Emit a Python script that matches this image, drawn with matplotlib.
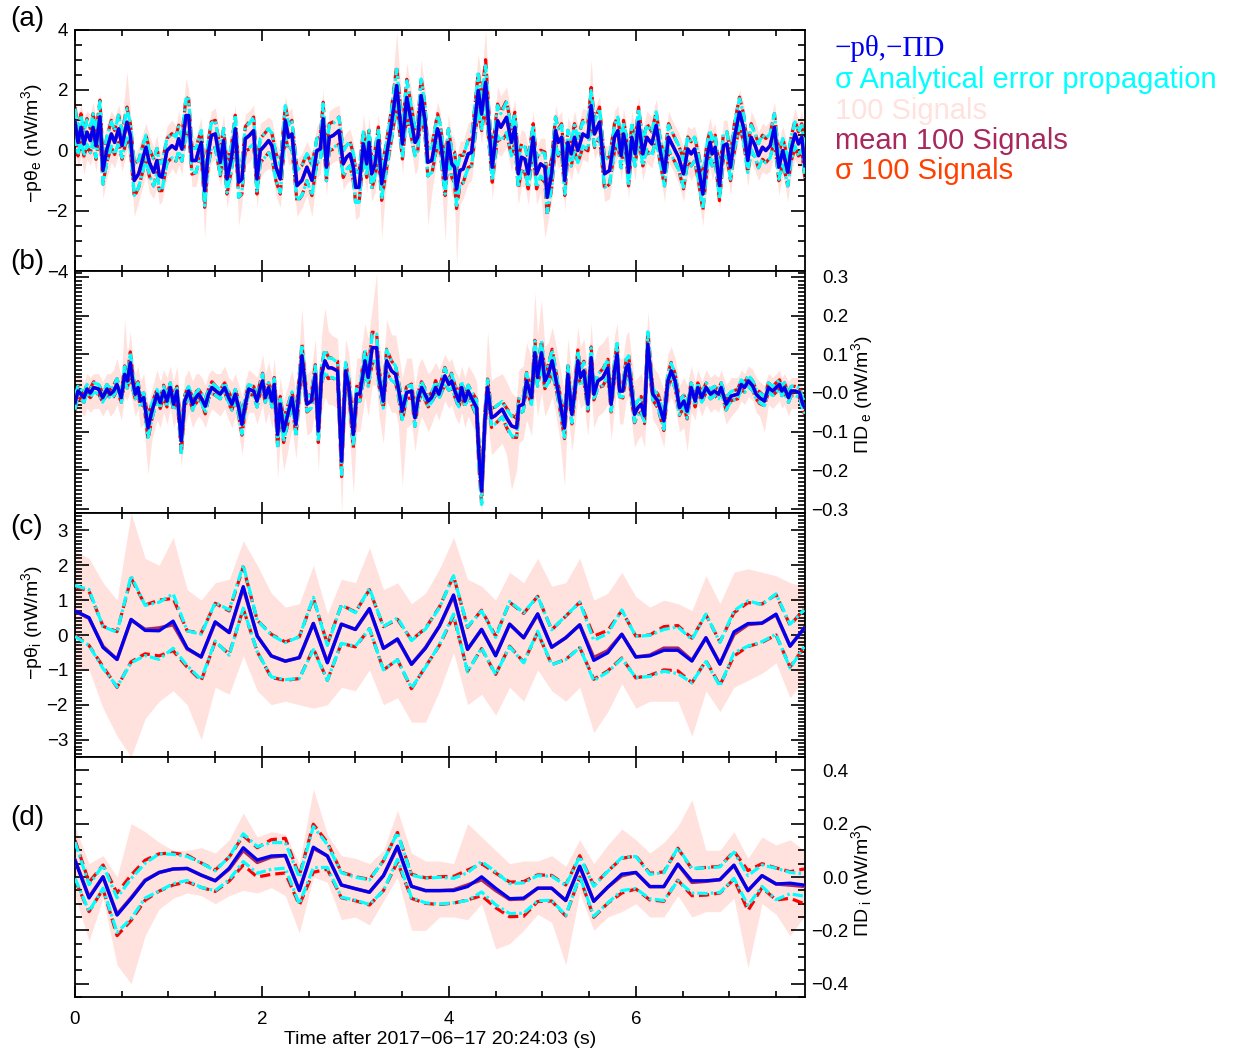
import numpy as np
import matplotlib
matplotlib.use("Agg")
import matplotlib.pyplot as plt
from matplotlib.ticker import MultipleLocator

plt.rcParams['font.family'] = ['Liberation Sans', 'DejaVu Sans']
plt.rcParams['mathtext.fontset'] = 'custom'
plt.rcParams['mathtext.rm'] = 'Liberation Sans'
plt.rcParams['mathtext.it'] = 'Liberation Sans:italic'

# ---------------- panel (a): -p theta_e (electrons, nW/m^3) ----------------
t_a = [0.000, 0.032, 0.064, 0.096, 0.128, 0.164, 0.193, 0.225, 0.267, 0.299,
       0.342, 0.389, 0.424, 0.467, 0.503, 0.556, 0.592, 0.634, 0.681, 0.759,
       0.795, 0.841, 0.877, 0.902, 0.930, 0.984, 1.037, 1.080, 1.109, 1.144,
       1.187, 1.216, 1.251, 1.294, 1.323, 1.351, 1.387, 1.422, 1.458, 1.501,
       1.554, 1.590, 1.626, 1.672, 1.715, 1.751, 1.786, 1.822, 1.865, 1.911,
       1.947, 1.982, 2.028, 2.071, 2.107, 2.150, 2.196, 2.250, 2.285, 2.321,
       2.375, 2.428, 2.481, 2.535, 2.588, 2.624, 2.655, 2.690, 2.720, 2.763,
       2.824, 2.870, 2.906, 2.942, 2.978, 3.003, 3.039, 3.085, 3.121, 3.146,
       3.174, 3.210, 3.246, 3.281, 3.324, 3.381, 3.442, 3.503, 3.549, 3.603,
       3.638, 3.667, 3.703, 3.745, 3.774, 3.817, 3.878, 3.906, 3.960, 3.995,
       4.031, 4.060, 4.082, 4.118, 4.153, 4.207, 4.243, 4.314, 4.350, 4.393,
       4.428, 4.464, 4.521, 4.556, 4.617, 4.670, 4.706, 4.742, 4.777, 4.813,
       4.849, 4.902, 4.938, 4.981, 5.027, 5.052, 5.099, 5.141, 5.170, 5.206,
       5.240, 5.273, 5.309, 5.344, 5.380, 5.433, 5.487, 5.522, 5.558, 5.612,
       5.665, 5.719, 5.772, 5.808, 5.843, 5.868, 5.897, 5.922, 5.957, 5.993,
       6.029, 6.075, 6.118, 6.171, 6.218, 6.260, 6.307, 6.350, 6.403, 6.457,
       6.510, 6.556, 6.592, 6.628, 6.670, 6.717, 6.760, 6.795, 6.817, 6.849,
       6.895, 6.938, 6.974, 7.013, 7.055, 7.109, 7.152, 7.198, 7.234, 7.277,
       7.312, 7.355, 7.391, 7.437, 7.483, 7.530, 7.573, 7.626, 7.662, 7.704,
       7.740, 7.775, 7.810]
pe_a = [0.93, 0.26, 0.76, 0.21, 0.60, 0.32, 0.76, 0.15, 1.11, -0.67,
        0.04, 0.54, 0.26, 0.71, 0.15, 0.93, 0.49, -1.00, -0.78, 0.10,
        -0.40, -0.73, -0.34, -0.84, -0.89, -0.01, 0.15, 0.04, 0.38, 0.04,
        1.15, 1.15, -0.34, -0.34, -0.01, 0.26, -1.34, -0.18, 0.49, 0.54,
        -0.40, 0.32, -0.95, -0.29, 0.71, -1.06, -0.95, 0.38, 0.49, 0.65,
        -0.95, -0.01, 0.15, 0.32, 0.15, -0.56, -0.95, 0.98, 0.43, 0.54,
        -1.17, -1.00, -0.56, -1.00, -0.01, 0.04, 1.04, -0.56, 0.43, 0.49,
        0.65, -0.45, -0.23, -0.12, -0.56, -1.23, -1.23, 0.21, -0.45, 0.26,
        -0.78, -0.45, 0.32, -1.11, -0.34, 0.76, 2.14, 0.21, 1.75, 0.87,
        0.26, 0.43, 1.81, 0.98, -0.40, -0.34, 0.71, 0.43, -0.95, 0.26,
        -0.45, -0.56, -1.28, -0.67, -0.62, -0.12, -0.07, 1.98, 1.20, 2.25,
        0.76, -0.56, 0.98, 0.76, 1.09, 0.26, 0.76, -0.78, -0.23, -0.29,
        -0.78, 0.43, -0.78, -0.45, -0.56, -1.56, -0.78, 0.65, 0.26, 0.43,
        -1.00, 0.26, -0.12, 0.43, -0.01, 0.54, 0.43, 1.48, 0.54, 0.93,
        -0.78, -0.67, 0.43, 0.65, -0.18, 0.54, 0.10, -0.73, 0.43, -0.12,
        0.93, -0.12, 0.43, 0.21, 0.82, -0.01, -0.73, 0.43, 0.10, -0.23,
        -0.78, 0.04, -0.12, 0.04, -0.56, -1.45, -0.23, 0.26, -0.12, 0.10,
        -1.17, 0.15, 0.21, -0.56, 0.43, 1.26, 0.76, -0.34, 0.43, 0.15,
        -0.18, 0.10, -0.01, 0.15, 0.76, -0.56, -0.01, -0.73, 0.04, 0.54,
        0.21, 0.43, -0.51]
sig_a_an = [0.45, 0.40, 0.40, 0.40, 0.40, 0.40, 0.45, 0.40, 0.50, 0.45,
            0.40, 0.40, 0.40, 0.45, 0.40, 0.45, 0.40, 0.50, 0.45, 0.40,
            0.40, 0.45, 0.40, 0.45, 0.45, 0.40, 0.40, 0.40, 0.40, 0.40,
            0.55, 0.55, 0.40, 0.40, 0.40, 0.40, 0.50, 0.40, 0.40, 0.45,
            0.40, 0.40, 0.45, 0.40, 0.45, 0.50, 0.45, 0.40, 0.40, 0.45,
            0.45, 0.40, 0.40, 0.40, 0.40, 0.45, 0.45, 0.50, 0.40, 0.45,
            0.50, 0.50, 0.45, 0.50, 0.40, 0.40, 0.50, 0.45, 0.40, 0.40,
            0.45, 0.40, 0.40, 0.40, 0.45, 0.50, 0.50, 0.40, 0.40, 0.40,
            0.45, 0.40, 0.40, 0.50, 0.40, 0.45, 0.55, 0.45, 0.55, 0.50,
            0.45, 0.45, 0.55, 0.50, 0.45, 0.40, 0.45, 0.45, 0.50, 0.45,
            0.45, 0.45, 0.55, 0.45, 0.45, 0.45, 0.45, 0.55, 0.50, 0.55,
            0.50, 0.45, 0.50, 0.45, 0.50, 0.45, 0.45, 0.45, 0.40, 0.40,
            0.45, 0.40, 0.45, 0.40, 0.45, 0.50, 0.45, 0.45, 0.40, 0.40,
            0.45, 0.40, 0.40, 0.40, 0.40, 0.40, 0.40, 0.50, 0.40, 0.45,
            0.45, 0.45, 0.40, 0.45, 0.40, 0.40, 0.40, 0.45, 0.40, 0.40,
            0.45, 0.40, 0.40, 0.40, 0.45, 0.40, 0.45, 0.40, 0.40, 0.40,
            0.45, 0.40, 0.40, 0.40, 0.40, 0.50, 0.40, 0.40, 0.40, 0.40,
            0.45, 0.40, 0.40, 0.40, 0.40, 0.45, 0.45, 0.40, 0.40, 0.40,
            0.40, 0.40, 0.40, 0.40, 0.45, 0.40, 0.40, 0.45, 0.40, 0.40,
            0.40, 0.40, 0.40]
sig_a_mc = [0.50, 0.45, 0.45, 0.40, 0.45, 0.40, 0.45, 0.45, 0.55, 0.45,
            0.40, 0.45, 0.40, 0.45, 0.45, 0.50, 0.40, 0.55, 0.45, 0.40,
            0.45, 0.45, 0.40, 0.50, 0.45, 0.40, 0.40, 0.40, 0.45, 0.40,
            0.60, 0.55, 0.45, 0.40, 0.40, 0.40, 0.55, 0.40, 0.45, 0.45,
            0.45, 0.40, 0.50, 0.40, 0.45, 0.50, 0.50, 0.40, 0.45, 0.45,
            0.50, 0.40, 0.40, 0.40, 0.40, 0.45, 0.50, 0.50, 0.45, 0.45,
            0.55, 0.50, 0.45, 0.50, 0.40, 0.40, 0.55, 0.45, 0.45, 0.45,
            0.45, 0.45, 0.40, 0.40, 0.45, 0.55, 0.50, 0.45, 0.45, 0.40,
            0.50, 0.45, 0.45, 0.55, 0.45, 0.50, 0.65, 0.50, 0.60, 0.50,
            0.45, 0.45, 0.60, 0.50, 0.45, 0.45, 0.50, 0.45, 0.55, 0.45,
            0.45, 0.50, 0.65, 0.50, 0.45, 0.45, 0.45, 0.60, 0.55, 0.75,
            0.50, 0.50, 0.55, 0.50, 0.55, 0.45, 0.50, 0.50, 0.45, 0.45,
            0.50, 0.45, 0.50, 0.45, 0.50, 0.60, 0.50, 0.45, 0.45, 0.45,
            0.50, 0.40, 0.40, 0.45, 0.40, 0.45, 0.45, 0.60, 0.45, 0.50,
            0.50, 0.45, 0.45, 0.45, 0.40, 0.45, 0.40, 0.45, 0.45, 0.40,
            0.50, 0.40, 0.45, 0.40, 0.45, 0.40, 0.45, 0.45, 0.40, 0.40,
            0.50, 0.40, 0.40, 0.40, 0.45, 0.55, 0.45, 0.40, 0.40, 0.40,
            0.50, 0.40, 0.40, 0.45, 0.45, 0.50, 0.45, 0.40, 0.45, 0.40,
            0.40, 0.40, 0.40, 0.40, 0.45, 0.45, 0.40, 0.45, 0.40, 0.45,
            0.40, 0.45, 0.45]
pk_a_hi = [1.7, 1.2, 1.5, 1.1, 1.3, 1.2, 1.6, 1.0, 1.9, 0.2,
           0.9, 1.3, 1.1, 1.5, 1.0, 2.6, 1.3, -0.2, 0.1, 0.9,
           0.5, 0.1, 0.5, 0.0, -0.1, 0.8, 1.0, 0.8, 1.3, 0.9,
           2.4, 2.0, 0.5, 0.4, 0.8, 1.1, -0.5, 0.7, 1.3, 1.4,
           0.5, 1.2, -0.1, 0.6, 1.5, -0.2, -0.1, 1.2, 1.3, 1.5,
           -0.1, 0.9, 1.0, 1.1, 1.0, 0.3, -0.1, 1.8, 1.3, 1.4,
           -0.3, -0.1, 0.3, -0.1, 0.8, 0.9, 2.0, 0.3, 1.3, 1.4,
           1.5, 0.4, 0.6, 0.7, 0.3, -0.4, -0.4, 1.2, 0.4, 1.1,
           0.1, 0.4, 1.2, -0.2, 0.5, 1.7, 3.9, 1.3, 2.9, 1.9,
           1.3, 1.5, 3.0, 2.0, 0.6, 0.5, 1.6, 1.3, -0.1, 1.2,
           0.5, 0.4, -0.3, 0.3, 0.3, 0.9, 1.0, 3.2, 2.4, 4.0,
           1.9, 0.4, 2.1, 1.8, 2.1, 1.2, 1.7, 0.2, 0.7, 0.6,
           0.1, 1.3, 0.1, 0.4, 0.4, -0.6, 0.1, 1.5, 1.1, 1.3,
           -0.1, 1.1, 0.8, 1.3, 0.8, 1.4, 1.3, 3.0, 1.4, 1.8,
           0.1, 0.2, 1.3, 1.5, 0.7, 1.4, 0.9, 0.1, 1.3, 0.7,
           1.8, 0.7, 1.3, 1.1, 1.7, 0.8, 0.1, 1.3, 0.9, 0.6,
           0.1, 0.8, 0.7, 0.8, 0.3, -0.6, 0.6, 1.1, 0.7, 0.9,
           -0.3, 1.0, 1.0, 0.3, 1.3, 2.0, 1.6, 0.5, 1.3, 1.0,
           0.6, 0.9, 0.8, 1.0, 1.6, 0.3, 0.8, 0.1, 0.9, 1.4,
           1.0, 1.3, 0.4]
pk_a_lo = [0.1, -0.6, -0.2, -0.8, -0.3, -0.5, -0.2, -0.7, 0.3, -1.6,
           -0.9, -0.4, -0.6, -0.1, -0.7, 0.0, -0.5, -2.2, -1.7, -0.8,
           -1.4, -1.6, -1.2, -1.8, -1.7, -0.9, -0.6, -0.8, -0.5, -0.8,
           0.3, 0.3, -1.2, -1.2, -0.8, -0.6, -2.9, -1.1, -0.4, -0.3,
           -1.2, -0.6, -1.9, -1.2, -0.1, -2.5, -1.8, -0.5, -0.4, -0.2,
           -1.9, -0.9, -0.7, -0.6, -0.7, -1.5, -1.9, 0.1, -0.5, -0.4,
           -2.2, -1.9, -1.5, -2.2, -0.9, -0.8, 0.2, -1.5, -0.5, -0.4,
           -0.3, -1.3, -1.1, -1.0, -1.5, -2.3, -2.2, -0.7, -1.4, -0.7,
           -1.7, -1.4, -0.6, -2.9, -1.3, -0.1, 1.2, -0.8, 0.8, -0.1,
           -0.8, -0.6, 0.8, -0.1, -2.5, -1.4, -0.2, -0.5, -3.0, -0.7,
           -1.5, -1.6, -3.8, -1.8, -1.6, -1.1, -1.0, 0.9, 0.2, 1.2,
           -0.3, -1.6, -0.1, -0.2, 0.1, -0.7, -0.2, -1.8, -1.2, -1.2,
           -1.8, -0.5, -1.8, -1.4, -2.9, -2.5, -1.7, -0.3, -0.6, -0.5,
           -2.0, -0.6, -1.0, -0.5, -0.8, -0.3, -0.4, 0.6, -0.3, 0.1,
           -1.7, -1.6, -0.5, -0.2, -1.0, -0.3, -0.7, -1.6, -0.4, -1.0,
           0.1, -1.0, -0.4, -0.6, 0.0, -0.8, -1.7, -0.4, -0.7, -1.1,
           -1.7, -0.8, -1.0, -0.8, -1.5, -2.5, -1.1, -0.6, -1.0, -0.7,
           -2.0, -0.7, -0.6, -1.5, -0.4, 0.5, -0.1, -1.2, -0.4, -0.7,
           -1.0, -0.7, -0.8, -0.7, -0.1, -1.5, -0.8, -1.7, -0.8, -0.3,
           -0.6, -0.5, -1.4]

# ---------------- panel (b): Pi-D_e (electrons, nW/m^3) ----------------
t_b = [0.000, 0.032, 0.064, 0.096, 0.128, 0.164, 0.200, 0.253, 0.296, 0.342,
       0.378, 0.413, 0.449, 0.495, 0.531, 0.560, 0.592, 0.617, 0.645, 0.674,
       0.699, 0.735, 0.781, 0.823, 0.877, 0.912, 0.948, 0.984, 1.020, 1.055,
       1.091, 1.137, 1.173, 1.216, 1.258, 1.294, 1.323, 1.358, 1.394, 1.429,
       1.465, 1.508, 1.554, 1.601, 1.644, 1.679, 1.715, 1.751, 1.786, 1.822,
       1.858, 1.911, 1.947, 1.982, 2.007, 2.036, 2.071, 2.107, 2.132, 2.168,
       2.196, 2.232, 2.268, 2.321, 2.364, 2.428, 2.457, 2.481, 2.528, 2.571,
       2.603, 2.638, 2.674, 2.710, 2.745, 2.809, 2.852, 2.895, 2.931, 2.977,
       3.013, 3.048, 3.102, 3.137, 3.180, 3.227, 3.252, 3.298, 3.334, 3.387,
       3.430, 3.458, 3.501, 3.548, 3.601, 3.637, 3.672, 3.708, 3.744, 3.779,
       3.815, 3.858, 3.893, 3.957, 4.000, 4.029, 4.064, 4.107, 4.136, 4.171,
       4.207, 4.260, 4.296, 4.321, 4.350, 4.385, 4.414, 4.456, 4.492, 4.570,
       4.617, 4.670, 4.724, 4.749, 4.795, 4.831, 4.884, 4.920, 4.949, 4.991,
       5.027, 5.063, 5.105, 5.141, 5.187, 5.237, 5.273, 5.316, 5.351, 5.380,
       5.408, 5.444, 5.487, 5.522, 5.551, 5.594, 5.647, 5.701, 5.736, 5.772,
       5.800, 5.826, 5.861, 5.897, 5.922, 5.986, 6.022, 6.057, 6.093, 6.128,
       6.182, 6.236, 6.300, 6.343, 6.378, 6.421, 6.467, 6.514, 6.549, 6.592,
       6.635, 6.663, 6.706, 6.752, 6.799, 6.842, 6.884, 6.913, 6.966, 7.020,
       7.091, 7.127, 7.162, 7.205, 7.252, 7.287, 7.323, 7.376, 7.419, 7.465,
       7.501, 7.537, 7.562, 7.590, 7.633, 7.662, 7.704, 7.751, 7.786, 7.810]
pid_b = [-0.025, 0.005, -0.003, -0.012, 0.010, 0.000, 0.014, 0.010, -0.012, 0.010,
         -0.003, 0.005, 0.022, -0.012, 0.048, 0.031, 0.078, 0.031, -0.003, 0.014,
         -0.021, -0.012, -0.090, -0.047, -0.003, -0.025, 0.005, -0.021, 0.014, -0.029,
         0.005, -0.124, -0.021, 0.005, -0.029, -0.012, -0.003, -0.016, -0.034, -0.003,
         0.014, 0.005, -0.003, 0.014, -0.012, -0.029, -0.003, -0.038, -0.081, -0.029,
         0.010, 0.005, -0.021, 0.014, 0.031, -0.012, 0.014, -0.021, 0.022, -0.107,
         -0.029, -0.098, -0.064, -0.012, -0.081, 0.096, 0.031, -0.029, -0.021, 0.048,
         -0.098, 0.048, 0.083, 0.065, 0.065, 0.057, -0.176, 0.057, 0.014, -0.107,
         -0.003, -0.003, 0.083, 0.040, 0.117, 0.117, 0.040, -0.021, 0.083, 0.057,
         0.048, 0.014, -0.047, 0.001, 0.005, -0.064, -0.012, 0.014, -0.003, -0.021,
         -0.012, 0.014, -0.003, 0.044, 0.022, 0.031, 0.005, -0.021, 0.014, -0.021,
         0.005, -0.021, -0.038, -0.158, -0.253, -0.072, 0.014, -0.064, -0.059, -0.042,
         -0.064, -0.085, -0.090, -0.034, -0.029, 0.031, -0.012, 0.104, 0.040, 0.104,
         0.031, 0.048, 0.083, 0.040, -0.021, -0.090, 0.048, -0.055, 0.014, 0.083,
         0.040, 0.057, -0.029, 0.091, -0.003, 0.031, 0.040, 0.065, -0.029, 0.057,
         0.100, 0.005, 0.005, 0.065, 0.074, -0.055, -0.038, -0.029, -0.059, 0.126,
         -0.003, -0.021, -0.072, 0.031, 0.057, 0.031, -0.038, -0.021, -0.047, 0.014,
         -0.021, 0.014, -0.012, 0.014, -0.003, 0.005, -0.003, 0.014, -0.029, -0.008,
         -0.003, 0.022, 0.014, 0.031, 0.018, -0.003, -0.012, -0.021, 0.014, 0.005,
         0.014, 0.022, 0.005, 0.014, -0.012, 0.005, 0.005, 0.001, -0.029, -0.038]
sig_b_an = [0.018, 0.012, 0.012, 0.012, 0.012, 0.012, 0.012, 0.012, 0.012, 0.012,
            0.012, 0.012, 0.015, 0.012, 0.020, 0.018, 0.025, 0.018, 0.012, 0.012,
            0.015, 0.012, 0.025, 0.020, 0.012, 0.015, 0.012, 0.015, 0.012, 0.015,
            0.012, 0.030, 0.015, 0.012, 0.015, 0.012, 0.012, 0.012, 0.018, 0.012,
            0.012, 0.012, 0.012, 0.012, 0.012, 0.015, 0.012, 0.018, 0.025, 0.015,
            0.012, 0.012, 0.015, 0.012, 0.018, 0.012, 0.012, 0.015, 0.015, 0.030,
            0.018, 0.028, 0.022, 0.015, 0.025, 0.028, 0.020, 0.018, 0.018, 0.022,
            0.028, 0.022, 0.028, 0.025, 0.025, 0.022, 0.035, 0.022, 0.018, 0.030,
            0.018, 0.018, 0.028, 0.022, 0.035, 0.035, 0.022, 0.018, 0.028, 0.025,
            0.022, 0.018, 0.022, 0.015, 0.015, 0.022, 0.015, 0.015, 0.012, 0.015,
            0.012, 0.015, 0.012, 0.020, 0.015, 0.018, 0.015, 0.015, 0.015, 0.015,
            0.015, 0.015, 0.020, 0.035, 0.035, 0.025, 0.020, 0.022, 0.022, 0.020,
            0.022, 0.025, 0.025, 0.018, 0.018, 0.020, 0.018, 0.030, 0.022, 0.030,
            0.020, 0.022, 0.028, 0.022, 0.018, 0.025, 0.022, 0.022, 0.018, 0.025,
            0.020, 0.022, 0.018, 0.025, 0.015, 0.018, 0.020, 0.022, 0.018, 0.020,
            0.028, 0.015, 0.015, 0.022, 0.022, 0.020, 0.018, 0.018, 0.020, 0.032,
            0.015, 0.015, 0.022, 0.018, 0.020, 0.018, 0.018, 0.015, 0.018, 0.012,
            0.012, 0.012, 0.012, 0.012, 0.012, 0.012, 0.012, 0.012, 0.015, 0.012,
            0.012, 0.012, 0.012, 0.015, 0.012, 0.012, 0.012, 0.012, 0.012, 0.012,
            0.012, 0.012, 0.012, 0.012, 0.012, 0.012, 0.012, 0.012, 0.015, 0.015]
sig_b_mc = [0.020, 0.012, 0.015, 0.012, 0.012, 0.012, 0.015, 0.012, 0.012, 0.012,
            0.012, 0.015, 0.015, 0.012, 0.022, 0.018, 0.028, 0.020, 0.012, 0.015,
            0.015, 0.012, 0.030, 0.020, 0.012, 0.015, 0.015, 0.015, 0.012, 0.018,
            0.012, 0.035, 0.015, 0.012, 0.015, 0.015, 0.012, 0.012, 0.020, 0.012,
            0.015, 0.012, 0.012, 0.012, 0.015, 0.015, 0.012, 0.020, 0.028, 0.015,
            0.012, 0.012, 0.015, 0.015, 0.020, 0.012, 0.012, 0.015, 0.018, 0.035,
            0.020, 0.030, 0.025, 0.015, 0.028, 0.030, 0.022, 0.020, 0.018, 0.025,
            0.030, 0.022, 0.030, 0.028, 0.025, 0.025, 0.040, 0.022, 0.020, 0.035,
            0.020, 0.018, 0.030, 0.022, 0.040, 0.038, 0.022, 0.020, 0.030, 0.025,
            0.022, 0.020, 0.025, 0.015, 0.018, 0.022, 0.015, 0.015, 0.015, 0.015,
            0.012, 0.018, 0.012, 0.022, 0.015, 0.020, 0.015, 0.018, 0.015, 0.015,
            0.015, 0.018, 0.022, 0.035, 0.032, 0.025, 0.022, 0.025, 0.022, 0.020,
            0.025, 0.028, 0.025, 0.020, 0.018, 0.022, 0.018, 0.032, 0.022, 0.032,
            0.020, 0.025, 0.030, 0.022, 0.020, 0.028, 0.022, 0.025, 0.018, 0.028,
            0.020, 0.025, 0.018, 0.028, 0.015, 0.018, 0.022, 0.022, 0.020, 0.020,
            0.030, 0.015, 0.018, 0.022, 0.025, 0.022, 0.018, 0.020, 0.020, 0.035,
            0.015, 0.018, 0.025, 0.018, 0.022, 0.018, 0.020, 0.015, 0.020, 0.012,
            0.015, 0.012, 0.012, 0.012, 0.012, 0.012, 0.012, 0.012, 0.015, 0.012,
            0.012, 0.012, 0.012, 0.015, 0.012, 0.012, 0.015, 0.012, 0.012, 0.012,
            0.012, 0.012, 0.012, 0.012, 0.012, 0.012, 0.012, 0.012, 0.015, 0.018]
pk_b_hi = [0.03, 0.05, 0.04, 0.03, 0.05, 0.04, 0.05, 0.05, 0.03, 0.05,
           0.05, 0.06, 0.09, 0.04, 0.19, 0.10, 0.16, 0.09, 0.05, 0.07,
           0.03, 0.05, -0.03, 0.01, 0.06, 0.03, 0.06, 0.04, 0.07, 0.03,
           0.07, -0.05, 0.04, 0.06, 0.03, 0.05, 0.05, 0.04, 0.02, 0.05,
           0.06, 0.05, 0.05, 0.07, 0.04, 0.03, 0.05, 0.02, -0.01, 0.03,
           0.06, 0.05, 0.04, 0.07, 0.10, 0.05, 0.08, 0.04, 0.09, -0.02,
           0.04, -0.02, 0.01, 0.06, 0.00, 0.22, 0.11, 0.05, 0.06, 0.14,
           -0.01, 0.15, 0.22, 0.16, 0.15, 0.14, -0.07, 0.14, 0.10, -0.02,
           0.09, 0.09, 0.18, 0.14, 0.22, 0.31, 0.13, 0.07, 0.19, 0.15,
           0.15, 0.11, 0.04, 0.09, 0.09, 0.02, 0.07, 0.09, 0.07, 0.05,
           0.06, 0.08, 0.06, 0.10, 0.08, 0.09, 0.06, 0.04, 0.07, 0.04,
           0.07, 0.05, 0.03, -0.06, -0.16, 0.02, 0.16, 0.03, 0.04, 0.05,
           0.03, 0.00, -0.01, 0.06, 0.07, 0.13, 0.09, 0.26, 0.15, 0.24,
           0.12, 0.13, 0.17, 0.13, 0.07, 0.00, 0.14, 0.05, 0.10, 0.17,
           0.12, 0.14, 0.06, 0.18, 0.08, 0.12, 0.13, 0.15, 0.06, 0.15,
           0.18, 0.09, 0.09, 0.15, 0.16, 0.03, 0.04, 0.05, 0.02, 0.21,
           0.07, 0.05, 0.01, 0.10, 0.12, 0.09, 0.02, 0.04, 0.02, 0.07,
           0.03, 0.06, 0.03, 0.06, 0.04, 0.05, 0.04, 0.06, 0.02, 0.04,
           0.04, 0.06, 0.05, 0.07, 0.06, 0.04, 0.03, 0.02, 0.05, 0.04,
           0.05, 0.06, 0.04, 0.05, 0.03, 0.04, 0.04, 0.04, 0.01, 0.00]
pk_b_lo = [-0.07, -0.04, -0.05, -0.06, -0.04, -0.05, -0.04, -0.04, -0.06, -0.04,
           -0.06, -0.05, -0.03, -0.07, -0.01, -0.02, 0.01, -0.03, -0.06, -0.04,
           -0.09, -0.08, -0.21, -0.12, -0.07, -0.09, -0.05, -0.08, -0.04, -0.09,
           -0.06, -0.19, -0.09, -0.05, -0.09, -0.07, -0.06, -0.07, -0.09, -0.06,
           -0.04, -0.05, -0.06, -0.04, -0.07, -0.09, -0.06, -0.10, -0.16, -0.09,
           -0.05, -0.05, -0.08, -0.05, -0.03, -0.08, -0.05, -0.09, -0.05, -0.22,
           -0.12, -0.20, -0.16, -0.09, -0.17, 0.01, -0.05, -0.11, -0.10, -0.04,
           -0.20, -0.05, -0.01, -0.03, -0.03, -0.04, -0.31, -0.04, -0.09, -0.26,
           -0.10, -0.10, -0.01, -0.06, 0.02, 0.02, -0.06, -0.13, -0.02, -0.05,
           -0.05, -0.08, -0.24, -0.09, -0.08, -0.15, -0.09, -0.06, -0.08, -0.10,
           -0.08, -0.05, -0.07, -0.02, -0.04, -0.03, -0.06, -0.08, -0.05, -0.09,
           -0.06, -0.09, -0.12, -0.25, -0.31, -0.17, -0.07, -0.16, -0.15, -0.13,
           -0.16, -0.25, -0.20, -0.13, -0.12, -0.07, -0.11, 0.00, -0.06, 0.00,
           -0.06, -0.04, -0.01, -0.05, -0.12, -0.24, -0.05, -0.15, -0.08, -0.01,
           -0.04, -0.03, -0.11, 0.00, -0.09, -0.06, -0.05, -0.03, -0.12, -0.04,
           0.02, -0.08, -0.08, -0.02, -0.01, -0.14, -0.12, -0.11, -0.14, 0.04,
           -0.07, -0.09, -0.14, -0.03, -0.01, -0.04, -0.10, -0.09, -0.15, -0.05,
           -0.07, -0.03, -0.06, -0.03, -0.05, -0.04, -0.05, -0.03, -0.08, -0.06,
           -0.04, -0.02, -0.03, -0.01, -0.02, -0.05, -0.06, -0.10, -0.03, -0.04,
           -0.03, -0.02, -0.04, -0.03, -0.06, -0.04, -0.04, -0.04, -0.07, -0.08]

# ---------------- panels (c), (d): ions, 150 ms cadence ----------------
t_ion = np.arange(53) * 0.15
pi_c = [0.69, 0.50, -0.36, -0.70, 0.45, 0.13, 0.12, 0.40, -0.38, -0.63,
        0.38, 0.07, 1.39, -0.03, -0.60, -0.75, -0.65, 0.33, -0.80, 0.31,
        0.16, 0.76, -0.38, -0.11, -0.84, -0.38, 0.26, 1.15, -0.41, 0.16,
        -0.60, 0.31, -0.08, 0.61, -0.35, -0.08, 0.29, -0.73, -0.51, 0.02,
        -0.63, -0.60, -0.44, -0.44, -0.75, -0.08, -0.84, 0.09, 0.33, 0.34,
        0.60, -0.32, 0.19]
mean_c = [0.69, 0.48, -0.33, -0.70, 0.43, 0.16, 0.20, 0.30, -0.40, -0.63,
          0.36, 0.07, 1.35, -0.03, -0.60, -0.75, -0.65, 0.33, -0.78, 0.31,
          0.16, 0.74, -0.38, -0.13, -0.84, -0.36, 0.26, 1.12, -0.41, 0.16,
          -0.58, 0.31, -0.08, 0.59, -0.35, -0.08, 0.29, -0.65, -0.45, 0.02,
          -0.63, -0.58, -0.38, -0.38, -0.73, -0.08, -0.82, 0.02, 0.30, 0.34,
          0.58, -0.32, 0.19]
sig_c_an = [0.73, 0.80, 0.60, 0.78, 1.25, 0.72, 0.82, 0.78, 0.50, 0.65,
            0.55, 0.65, 0.62, 0.45, 0.60, 0.53, 0.60, 0.75, 0.50, 0.55,
            0.48, 0.58, 0.62, 0.60, 0.68, 0.55, 0.53, 0.55, 0.65, 0.53,
            0.53, 0.65, 0.72, 0.50, 0.50, 0.63, 0.65, 0.58, 0.55, 0.70,
            0.59, 0.59, 0.60, 0.67, 0.62, 0.68, 0.63, 0.60, 0.65, 0.53,
            0.58, 0.63, 0.53]
sig_c_mc = [0.70, 0.78, 0.58, 0.80, 1.20, 0.70, 0.80, 0.75, 0.52, 0.68,
            0.55, 0.62, 0.60, 0.45, 0.62, 0.55, 0.60, 0.72, 0.52, 0.55,
            0.50, 0.56, 0.62, 0.58, 0.70, 0.55, 0.55, 0.57, 0.63, 0.55,
            0.55, 0.63, 0.70, 0.52, 0.50, 0.62, 0.65, 0.62, 0.58, 0.68,
            0.60, 0.58, 0.62, 0.65, 0.64, 0.66, 0.62, 0.62, 0.63, 0.55,
            0.58, 0.60, 0.55]
pk_c_hi = [2.4, 2.2, 1.5, 1.0, 3.5, 2.2, 2.0, 2.8, 1.3, 1.0,
           1.5, 1.6, 2.7, 2.0, 1.2, 0.8, 0.9, 2.0, 0.6, 1.6,
           1.5, 2.5, 1.3, 1.5, 0.9, 1.2, 1.9, 2.8, 1.6, 1.4,
           1.0, 1.8, 1.5, 2.2, 1.4, 1.5, 2.2, 1.0, 1.2, 1.8,
           1.1, 0.8, 1.0, 0.9, 0.7, 1.7, 0.9, 1.8, 1.9, 1.8,
           1.7, 1.5, 1.4]
pk_c_lo = [-1.0, -1.0, -2.1, -2.9, -3.5, -2.4, -1.9, -1.6, -2.0, -3.0,
           -1.5, -1.7, -0.6, -1.6, -2.0, -1.9, -2.0, -2.1, -2.0, -1.5,
           -1.6, -1.0, -2.0, -1.8, -2.5, -2.5, -1.6, -0.5, -2.0, -1.7,
           -2.3, -1.5, -1.9, -1.0, -1.6, -1.9, -1.5, -2.8, -2.2, -1.4,
           -2.1, -1.9, -1.9, -1.9, -2.9, -1.6, -2.2, -1.5, -1.3, -1.1,
           -0.8, -1.8, -1.3]

pid_d = [0.063, -0.079, 0.001, -0.143, -0.081, -0.014, 0.017, 0.030, 0.032, 0.007,
         -0.014, 0.033, 0.110, 0.064, 0.079, 0.081, -0.051, 0.112, 0.079, -0.030,
         -0.044, -0.057, 0.005, 0.116, -0.035, -0.051, -0.051, -0.051, -0.036, 0.001,
         -0.042, -0.081, -0.079, -0.042, -0.042, -0.088, 0.040, -0.091, -0.038, 0.011,
         0.017, -0.036, -0.036, 0.048, -0.014, -0.014, -0.010, 0.044, -0.051, 0.005,
         -0.026, -0.023, -0.030]
mean_d = [0.063, -0.075, 0.000, -0.140, -0.078, -0.012, 0.017, 0.030, 0.032, 0.007,
          -0.014, 0.030, 0.100, 0.055, 0.075, 0.080, -0.050, 0.108, 0.079, -0.030,
          -0.044, -0.057, 0.005, 0.112, -0.035, -0.051, -0.051, -0.048, -0.030, -0.010,
          -0.050, -0.084, -0.082, -0.042, -0.042, -0.088, 0.040, -0.091, -0.038, 0.005,
          0.017, -0.036, -0.036, 0.048, -0.020, -0.016, -0.010, 0.044, -0.051, 0.005,
          -0.026, -0.030, -0.035]
sig_d_an = [0.068, 0.050, 0.043, 0.065, 0.075, 0.065, 0.070, 0.055, 0.045, 0.046,
            0.037, 0.043, 0.052, 0.050, 0.050, 0.048, 0.050, 0.077, 0.043, 0.046,
            0.043, 0.046, 0.056, 0.050, 0.042, 0.046, 0.050, 0.046, 0.052, 0.057,
            0.062, 0.056, 0.057, 0.047, 0.045, 0.056, 0.037, 0.056, 0.059, 0.062,
            0.060, 0.046, 0.052, 0.062, 0.046, 0.048, 0.048, 0.049, 0.056, 0.040,
            0.059, 0.040, 0.042]
sig_d_mc = [0.075, 0.055, 0.045, 0.080, 0.085, 0.075, 0.070, 0.060, 0.050, 0.046,
            0.040, 0.045, 0.055, 0.055, 0.065, 0.065, 0.055, 0.090, 0.050, 0.048,
            0.045, 0.048, 0.056, 0.055, 0.045, 0.048, 0.052, 0.050, 0.056, 0.060,
            0.065, 0.065, 0.065, 0.050, 0.048, 0.058, 0.040, 0.060, 0.060, 0.065,
            0.062, 0.050, 0.055, 0.060, 0.050, 0.052, 0.050, 0.052, 0.075, 0.045,
            0.060, 0.050, 0.065]
pk_d_hi = [0.19, 0.05, 0.08, 0.00, 0.20, 0.17, 0.13, 0.10, 0.10, 0.11,
           0.09, 0.14, 0.24, 0.15, 0.17, 0.16, 0.05, 0.33, 0.16, 0.08,
           0.07, 0.05, 0.10, 0.25, 0.09, 0.06, 0.06, 0.05, 0.20, 0.15,
           0.10, 0.05, 0.06, 0.06, 0.08, 0.04, 0.14, 0.05, 0.12, 0.18,
           0.14, 0.09, 0.13, 0.19, 0.29, 0.10, 0.10, 0.17, 0.07, 0.15,
           0.12, 0.14, 0.10]
pk_d_lo = [-0.07, -0.24, -0.08, -0.33, -0.40, -0.22, -0.12, -0.08, -0.06, -0.07,
           -0.10, -0.07, -0.05, -0.06, -0.04, -0.07, -0.21, 0.00, -0.02, -0.16,
           -0.15, -0.18, -0.09, 0.00, -0.20, -0.20, -0.15, -0.15, -0.16, -0.10,
           -0.27, -0.25, -0.20, -0.14, -0.17, -0.33, -0.06, -0.20, -0.15, -0.13,
           -0.10, -0.15, -0.15, -0.07, -0.15, -0.13, -0.13, -0.08, -0.34, -0.10,
           -0.14, -0.22, -0.15]

legend_labels = ['\u2212p\u03b8,\u2212\u03a0D', '\u03c3 Analytical error propagation',
                 '100 Signals', 'mean 100 Signals', '\u03c3 100 Signals']

BLUE = '#0000F0'
CYAN = '#00FFFF'
PINK = '#FFE2DE'
MAROON = '#A8285E'
RED = '#FF0000'
ORANGE = '#FF4000'

W, H = 1234.0, 1052.0
fig = plt.figure(figsize=(W / 100, H / 100), dpi=100)


def box(top, bot):
    return [75 / W, 1 - bot / H, 730 / W, (bot - top) / H]


def draw(ax, t, v, s_an, mean, s_mc, hi, lo):
    t = np.asarray(t); v = np.asarray(v); mean = np.asarray(mean)
    s_an = np.asarray(s_an); s_mc = np.asarray(s_mc)
    ax.fill_between(t, lo, hi, color=PINK, lw=0, zorder=1)
    for sgn in (1, -1):
        ax.plot(t, mean + sgn * s_mc, color=RED, lw=2.3, ls=(0, (3.2, 1.6)), zorder=2)
        ax.plot(t, v + sgn * s_an, color=CYAN, lw=2.3, ls=(0, (3.2, 1.0, 0.8, 1.0)), zorder=3)
    ax.plot(t, mean, color=MAROON, lw=2.6, zorder=4)
    ax.plot(t, v, color=BLUE, lw=2.3, zorder=5)


def style(ax, ylim, ymaj, ymin, side, ylen=10):
    ax.set_xlim(0, 7.81)
    ax.set_ylim(*ylim)
    ax.xaxis.set_major_locator(MultipleLocator(2))
    ax.xaxis.set_minor_locator(MultipleLocator(0.5))
    ax.yaxis.set_major_locator(MultipleLocator(ymaj))
    ax.yaxis.set_minor_locator(MultipleLocator(ymin))
    ax.tick_params(which='both', direction='in', top=True, bottom=True,
                   left=True, right=True, labelbottom=False,
                   labelleft=(side == 'left'), labelright=(side == 'right'),
                   labelsize=13.5, width=1.2, color='black')
    ax.tick_params(axis='x', which='major', length=8)
    ax.tick_params(axis='x', which='minor', length=4)
    ax.tick_params(axis='y', which='major', length=ylen)
    ax.tick_params(axis='y', which='minor', length=ylen / 2)
    # right-hand labels are right-aligned, as in the original
    ax.tick_params(axis='y', which='major', pad=5 if side == 'left' else 31)
    for s in ax.spines.values():
        s.set_linewidth(1.3)


def right_align(ax):
    for tk in ax.yaxis.get_major_ticks():
        tk.label2.set_horizontalalignment('right')


ax_a = fig.add_axes(box(29.5, 271))
ax_b = fig.add_axes(box(271, 513))
ax_c = fig.add_axes(box(513, 757))
ax_d = fig.add_axes(box(757, 997))

draw(ax_a, t_a, pe_a, sig_a_an, pe_a, sig_a_mc, pk_a_hi, pk_a_lo)
draw(ax_b, t_b, pid_b, sig_b_an, pid_b, sig_b_mc, pk_b_hi, pk_b_lo)
draw(ax_c, t_ion, pi_c, sig_c_an, mean_c, sig_c_mc, pk_c_hi, pk_c_lo)
draw(ax_d, t_ion, pid_d, sig_d_an, mean_d, sig_d_mc, pk_d_hi, pk_d_lo)

style(ax_a, (-4, 4), 2, 0.5, 'left')
style(ax_b, (-0.31, 0.315), 0.1, 0.01, 'right')
style(ax_c, (-3.5, 3.5), 1, 0.1, 'left')
style(ax_d, (-0.45, 0.45), 0.2, 0.05, 'right')

ax_b.set_yticks([-0.3, -0.2, -0.1, 0.0, 0.1, 0.2, 0.3])
ax_b.set_yticklabels(['\u22120.3', '\u22120.2', '\u22120.1', '\u22120.0', '0.1', '0.2', '0.3'])
ax_d.set_yticks([-0.4, -0.2, 0.0, 0.2, 0.4])
ax_d.set_yticklabels(['\u22120.4', '\u22120.2', '0.0', '0.2', '0.4'])
right_align(ax_b)
right_align(ax_d)
ax_d.tick_params(axis='x', labelbottom=True, pad=10)
ax_d.set_xticks([0, 2, 4, 6])
ax_d.set_xticklabels(['0', '2', '4', '6'])

# panel letters
for lab, yc in [('(a)', 19), ('(b)', 262), ('(c)', 527), ('(d)', 818)]:
    fig.text(10 / W, 1 - yc / H, lab, fontsize=20, va='center', ha='left')

# axis labels
fig.text(32 / W, 1 - 143 / H, '\u2212p\u03b8$_{\\rm e}$ (nW/m$^{3}$)', rotation=90,
         fontsize=14, ha='center', va='center')
fig.text(32 / W, 1 - 622 / H, '\u2212p\u03b8$_{\\rm i}$ (nW/m$^{3}$)', rotation=90,
         fontsize=14, ha='center', va='center')
fig.text(862 / W, 1 - 395 / H, '\u03a0D$_{\\rm \\ e}$ (nW/m$^{3}$)', rotation=90,
         fontsize=14, ha='center', va='center')
fig.text(862 / W, 1 - 880 / H, '\u03a0D$_{\\rm \\ i}$ (nW/m$^{3}$)', rotation=90,
         fontsize=14, ha='center', va='center')
fig.text(440 / W, 1 - 1040 / H, 'Time after 2017\u221206\u221217 20:24:03 (s)',
         fontsize=14, ha='center', va='center')

# legend as coloured text
leg_colors = [BLUE, CYAN, PINK, MAROON, ORANGE]
leg_y = [48, 80, 111, 141, 171]
for txt, col, yc in zip(legend_labels, leg_colors, leg_y):
    fam = ['Liberation Serif', 'DejaVu Serif'] if txt.startswith('\u2212p') else None
    fig.text(835 / W, 1 - yc / H, txt, color=col, fontsize=21, ha='left',
             va='center', family=fam)

fig.savefig('out.png', dpi=100)
